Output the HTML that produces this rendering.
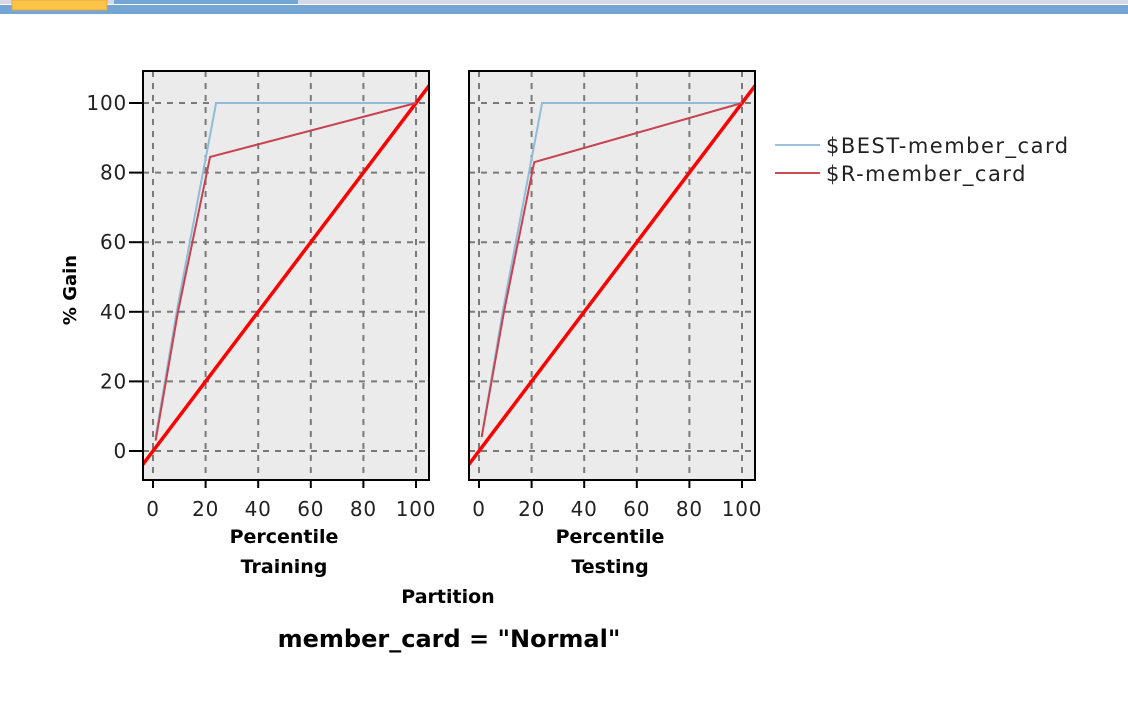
<!DOCTYPE html>
<html><head><meta charset="utf-8"><style>
body{margin:0;background:#fff;width:1128px;height:714px;overflow:hidden;font-family:"Liberation Sans","DejaVu Sans",sans-serif}
svg text{font-family:"DejaVu Sans","Liberation Sans",sans-serif}
</style></head><body>
<svg id="c" width="1128" height="714">
<rect x="0" y="0" width="1128" height="4" fill="#d8d8e6"/>
<rect x="0" y="5" width="1128" height="9" fill="#74a5d3"/>
<rect x="12" y="0" width="95" height="10" fill="#fcc54a" stroke="#e9a93a"/>
<rect x="114" y="0" width="184" height="4" fill="#74a5d3"/>
<g id="panels"></g>
<text x="76" y="290" font-size="18" font-weight="bold" text-anchor="middle" transform="rotate(-90 76 290)">% Gain</text>
<text x="448" y="603" font-size="19" font-weight="bold" text-anchor="middle">Partition</text>
<text x="449" y="647" font-size="24" font-weight="bold" text-anchor="middle">member_card = "Normal"</text>
<g>
<line x1="775" y1="145" x2="820" y2="145" stroke="#9cc3dc" stroke-width="2"/>
<text x="826" y="153" font-size="21" letter-spacing="1.5" fill="#222">$BEST-member_card</text>
<line x1="775" y1="173" x2="820" y2="173" stroke="#cc4a55" stroke-width="2"/>
<text x="826" y="181" font-size="21" letter-spacing="1.5" fill="#222">$R-member_card</text>
</g>
</svg>
<script>
const xTicks=[0,20,40,60,80,100];
const yTicks=[0,20,40,60,80,100];
const partitions=["Training","Testing"];
const bestX=[[1,9,24,100],[1,9,24,100]];
const bestY=[[4,40,100,100],[4,40,100,100]];
const rX=[[1,9.5,21.7,100],[1,9.5,21,100]];
const rY=[[3,40,84.5,100],[4,40,83,100]];
const baseX=[-10,110];
const baseY=[-10,110];
const NS="http://www.w3.org/2000/svg";
const g=document.getElementById('panels');
function el(t,a,p){const e=document.createElementNS(NS,t);for(const k in a)e.setAttribute(k,a[k]);(p||g).appendChild(e);return e;}
const lefts=[143,469];
partitions.forEach((name,i)=>{
 const L=lefts[i],R=L+286,T=71,B=480;
 const sx=v=>L+10+v*2.63, sy=v=>451-v*3.48;
 const grp=el('g',{});
 
 
 const cid='clip'+i;
 const cp=el('clipPath',{id:cid},grp);el('rect',{x:L,y:T,width:286,height:409},cp);
 el('rect',{x:L,y:T,width:286,height:409,fill:'#ebebeb'},grp);
 xTicks.forEach(v=>{el('line',{x1:sx(v),x2:sx(v),y1:T,y2:B,stroke:'#7a7a7a','stroke-width':2,'stroke-dasharray':'6,6'},grp);
  el('line',{x1:sx(v),x2:sx(v),y1:B,y2:B+8,stroke:'#000','stroke-width':2},grp);
  const t=el('text',{x:sx(v),y:B+36,'font-size':20,'letter-spacing':'0.8','text-anchor':'middle',fill:'#222'},grp);t.textContent=v;
  
  });
 yTicks.forEach(v=>{el('line',{x1:L,x2:R,y1:sy(v),y2:sy(v),stroke:'#7a7a7a','stroke-width':2,'stroke-dasharray':'6,6'},grp);
  if(i==0){el('line',{x1:L-14,x2:L,y1:sy(v),y2:sy(v),stroke:'#000','stroke-width':2},grp);
  const t=el('text',{x:L-16,y:sy(v)+7,'font-size':20,'letter-spacing':'0.8','text-anchor':'end',fill:'#222'},grp);t.textContent=v;
  
  }});
 const cg=el('g',{'clip-path':'url(#'+cid+')'},grp);
 const pts=(X,Y)=>X.map((x,k)=>sx(x)+','+sy(Y[k])).join(' ');
 const b=el('polyline',{points:pts(baseX,baseY),fill:'none',stroke:'#ff0000','stroke-width':3.5},cg);
 
 
 const bl=el('polyline',{points:pts(bestX[i],bestY[i]),fill:'none',stroke:'#8fbcd6','stroke-width':2},cg);
 
 
 const rl=el('polyline',{points:pts(rX[i],rY[i]),fill:'none',stroke:'#c8434f','stroke-width':2},cg);
 
 
 el('rect',{x:L,y:T,width:286,height:409,fill:'none',stroke:'#000','stroke-width':2},grp);
 const t1=el('text',{x:(L+R)/2-2,y:543,'font-size':19,'font-weight':'bold','text-anchor':'middle'},grp);t1.textContent='Percentile';
 
 
 const t2=el('text',{x:(L+R)/2-2,y:573,'font-size':19,'font-weight':'bold','text-anchor':'middle'},grp);t2.textContent=name;
 
 
});
</script>
</body></html>
